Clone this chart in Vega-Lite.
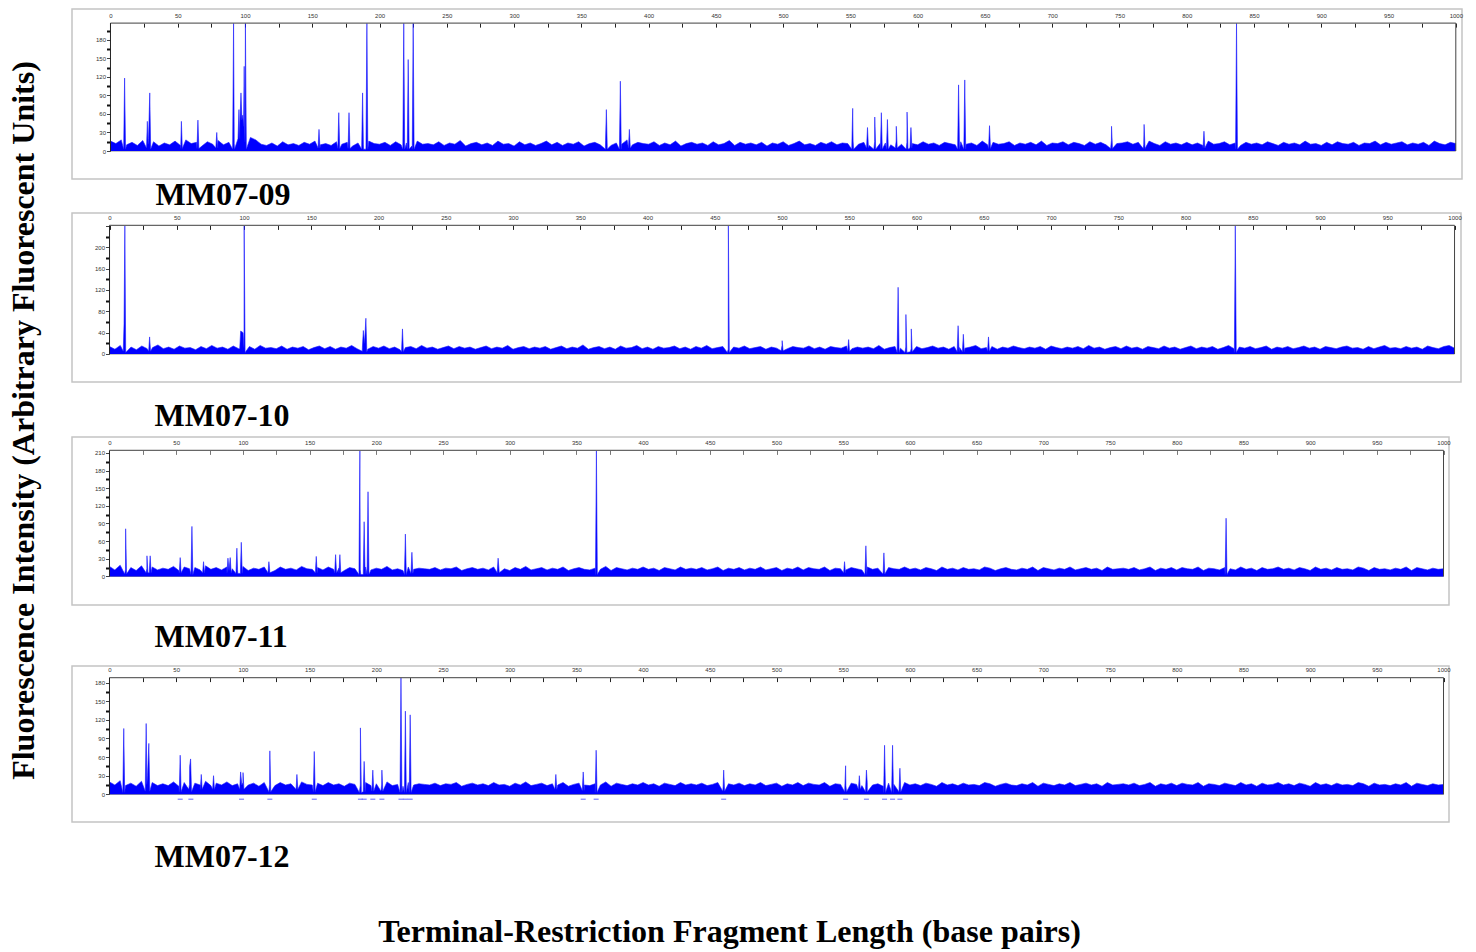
{
"$schema":"https://vega.github.io/schema/vega-lite/v6.json",
"padding":{"left":8,"top":8,"right":0,"bottom":0},
"spacing":0,
"title":{"text":"Fluorescence Intensity (Arbitrary Fluorescent Units)","orient":"left","anchor":"middle","font":"Liberation Serif","fontSize":32,"fontWeight":"bold","color":"#000","offset":30,"dx":58},
"config":{"view":{"stroke":"#c4c4c4","strokeWidth":1.5},"axis":{"grid":false,"labelFont":"Liberation Sans","labelFontSize":6,"labelColor":"#333"}},
"datasets":{
"p1":[{"x":0,"y":16},{"x":4,"y":12},{"x":8,"y":18},{"x":12,"y":10},{"x":16,"y":14},{"x":20,"y":9},{"x":24,"y":17},{"x":28,"y":11},{"x":32,"y":15},{"x":36,"y":8},
{"x":40,"y":13},{"x":44,"y":10},{"x":48,"y":16},{"x":52,"y":9},{"x":56,"y":18},{"x":60,"y":12},{"x":64,"y":14},{"x":68,"y":8},{"x":72,"y":15},{"x":76,"y":11},
{"x":80,"y":17},{"x":84,"y":10},{"x":88,"y":14},{"x":92,"y":12},{"x":96,"y":20},{"x":100,"y":15},{"x":104,"y":22},{"x":108,"y":18},{"x":112,"y":11},{"x":116,"y":9},
{"x":120,"y":13},{"x":124,"y":8},{"x":128,"y":15},{"x":132,"y":10},{"x":136,"y":12},{"x":140,"y":9},{"x":144,"y":14},{"x":148,"y":11},{"x":152,"y":16},{"x":156,"y":10},
{"x":160,"y":12},{"x":164,"y":9},{"x":168,"y":15},{"x":172,"y":11},{"x":176,"y":14},{"x":180,"y":8},{"x":184,"y":13},{"x":188,"y":10},{"x":192,"y":16},{"x":196,"y":12},
{"x":200,"y":11},{"x":204,"y":14},{"x":208,"y":9},{"x":212,"y":15},{"x":216,"y":10},{"x":220,"y":13},{"x":224,"y":8},{"x":228,"y":16},{"x":232,"y":11},{"x":236,"y":12},
{"x":240,"y":10},{"x":244,"y":15},{"x":248,"y":9},{"x":252,"y":13},{"x":256,"y":11},{"x":260,"y":17},{"x":264,"y":8},{"x":268,"y":12},{"x":272,"y":14},{"x":276,"y":10},
{"x":280,"y":13},{"x":284,"y":9},{"x":288,"y":16},{"x":292,"y":11},{"x":296,"y":12},{"x":300,"y":8},{"x":304,"y":15},{"x":308,"y":10},{"x":312,"y":13},{"x":316,"y":9},
{"x":320,"y":12},{"x":324,"y":16},{"x":328,"y":10},{"x":332,"y":14},{"x":336,"y":9},{"x":340,"y":13},{"x":344,"y":11},{"x":348,"y":15},{"x":352,"y":8},{"x":356,"y":12},
{"x":360,"y":14},{"x":364,"y":10},{"x":368,"y":17},{"x":372,"y":9},{"x":376,"y":13},{"x":380,"y":11},{"x":384,"y":18},{"x":388,"y":10},{"x":392,"y":14},{"x":396,"y":12},
{"x":400,"y":11},{"x":404,"y":15},{"x":408,"y":9},{"x":412,"y":13},{"x":416,"y":10},{"x":420,"y":16},{"x":424,"y":8},{"x":428,"y":12},{"x":432,"y":14},{"x":436,"y":11},
{"x":440,"y":13},{"x":444,"y":9},{"x":448,"y":15},{"x":452,"y":10},{"x":456,"y":12},{"x":460,"y":17},{"x":464,"y":9},{"x":468,"y":14},{"x":472,"y":11},{"x":476,"y":13},
{"x":480,"y":10},{"x":484,"y":14},{"x":488,"y":8},{"x":492,"y":13},{"x":496,"y":11},{"x":500,"y":15},{"x":504,"y":9},{"x":508,"y":12},{"x":512,"y":16},{"x":516,"y":10},
{"x":520,"y":12},{"x":524,"y":9},{"x":528,"y":14},{"x":532,"y":11},{"x":536,"y":15},{"x":540,"y":10},{"x":544,"y":13},{"x":548,"y":12},{"x":552,"y":16},{"x":556,"y":11},
{"x":560,"y":14},{"x":564,"y":9},{"x":568,"y":15},{"x":572,"y":12},{"x":576,"y":13},{"x":580,"y":10},{"x":584,"y":16},{"x":588,"y":11},{"x":592,"y":14},{"x":596,"y":12},
{"x":600,"y":10},{"x":604,"y":15},{"x":608,"y":11},{"x":612,"y":13},{"x":616,"y":9},{"x":620,"y":14},{"x":624,"y":12},{"x":628,"y":10},{"x":632,"y":15},{"x":636,"y":11},
{"x":640,"y":13},{"x":644,"y":9},{"x":648,"y":16},{"x":652,"y":10},{"x":656,"y":14},{"x":660,"y":11},{"x":664,"y":12},{"x":668,"y":15},{"x":672,"y":9},{"x":676,"y":13},
{"x":680,"y":11},{"x":684,"y":14},{"x":688,"y":10},{"x":692,"y":16},{"x":696,"y":9},{"x":700,"y":13},{"x":704,"y":12},{"x":708,"y":15},{"x":712,"y":10},{"x":716,"y":14},
{"x":720,"y":12},{"x":724,"y":9},{"x":728,"y":15},{"x":732,"y":11},{"x":736,"y":14},{"x":740,"y":10},{"x":744,"y":17},{"x":748,"y":12},{"x":752,"y":13},{"x":756,"y":15},
{"x":760,"y":11},{"x":764,"y":14},{"x":768,"y":10},{"x":772,"y":16},{"x":776,"y":12},{"x":780,"y":9},{"x":784,"y":15},{"x":788,"y":11},{"x":792,"y":13},{"x":796,"y":10},
{"x":800,"y":14},{"x":804,"y":10},{"x":808,"y":13},{"x":812,"y":9},{"x":816,"y":16},{"x":820,"y":11},{"x":824,"y":12},{"x":828,"y":15},{"x":832,"y":10},{"x":836,"y":13},
{"x":840,"y":9},{"x":844,"y":14},{"x":848,"y":11},{"x":852,"y":13},{"x":856,"y":10},{"x":860,"y":15},{"x":864,"y":12},{"x":868,"y":9},{"x":872,"y":14},{"x":876,"y":11},
{"x":880,"y":13},{"x":884,"y":10},{"x":888,"y":16},{"x":892,"y":11},{"x":896,"y":12},{"x":900,"y":9},{"x":904,"y":14},{"x":908,"y":10},{"x":912,"y":15},{"x":916,"y":12},
{"x":920,"y":11},{"x":924,"y":14},{"x":928,"y":9},{"x":932,"y":13},{"x":936,"y":12},{"x":940,"y":16},{"x":944,"y":10},{"x":948,"y":14},{"x":952,"y":11},{"x":956,"y":13},
{"x":960,"y":15},{"x":964,"y":10},{"x":968,"y":13},{"x":972,"y":11},{"x":976,"y":14},{"x":980,"y":9},{"x":984,"y":16},{"x":988,"y":12},{"x":992,"y":10},{"x":996,"y":14},{"x":1000,"y":12},
{"x":9.8,"y":3},{"x":10.5,"y":118},{"x":11.2,"y":3},
{"x":26.8,"y":5},{"x":27.4,"y":48},{"x":28.3,"y":20},{"x":29.2,"y":94},{"x":29.9,"y":3},
{"x":52.2,"y":4},{"x":52.7,"y":48},{"x":53.4,"y":4},
{"x":64.3,"y":4},{"x":65,"y":50},{"x":65.7,"y":4},
{"x":78.3,"y":5},{"x":79,"y":30},{"x":79.7,"y":5},
{"x":90.8,"y":3},{"x":91.5,"y":207},{"x":92.2,"y":3},
{"x":94.8,"y":20},{"x":95.5,"y":67},{"x":96.2,"y":45},{"x":97,"y":94},{"x":97.7,"y":50},{"x":98.3,"y":58},{"x":98.9,"y":40},{"x":99.4,"y":137},{"x":99.85,"y":30},{"x":100.3,"y":207},{"x":101,"y":3},
{"x":154.3,"y":5},{"x":155,"y":35},{"x":155.7,"y":5},
{"x":169,"y":4},{"x":169.7,"y":62},{"x":170.4,"y":4},
{"x":176.6,"y":4},{"x":177.3,"y":62},{"x":178,"y":4},
{"x":186.7,"y":3},{"x":187.4,"y":94},{"x":188.1,"y":3},{"x":189.9,"y":3},{"x":190.6,"y":207},{"x":191.3,"y":3},
{"x":217.3,"y":3},{"x":218,"y":207},{"x":218.7,"y":3},{"x":220.6,"y":3},{"x":221.3,"y":148},{"x":222,"y":3},{"x":224.3,"y":3},{"x":225,"y":207},{"x":225.7,"y":3},
{"x":367.9,"y":3},{"x":368.6,"y":67},{"x":369.3,"y":3},
{"x":378.3,"y":3},{"x":379,"y":113},{"x":379.7,"y":3},
{"x":385,"y":5},{"x":385.7,"y":35},{"x":386.4,"y":5},
{"x":551,"y":3},{"x":551.7,"y":69},{"x":552.4,"y":3},
{"x":562,"y":5},{"x":562.7,"y":38},{"x":563.4,"y":5},
{"x":567.4,"y":3},{"x":568.1,"y":55},{"x":568.8,"y":3},
{"x":572.3,"y":3},{"x":573,"y":62},{"x":573.7,"y":3},
{"x":576.8,"y":3},{"x":577.5,"y":51},{"x":578.2,"y":3},
{"x":583.4,"y":5},{"x":584.1,"y":40},{"x":584.8,"y":5},
{"x":591.4,"y":3},{"x":592.1,"y":63},{"x":592.8,"y":3},{"x":594.3,"y":5},{"x":595,"y":38},{"x":595.7,"y":5},
{"x":629.7,"y":3},{"x":630.4,"y":107},{"x":631.1,"y":3},{"x":634.3,"y":3},{"x":635,"y":115},{"x":635.7,"y":3},
{"x":652.7,"y":4},{"x":653.4,"y":41},{"x":654.1,"y":4},
{"x":743.4,"y":4},{"x":744.1,"y":40},{"x":744.8,"y":4},
{"x":767.6,"y":4},{"x":768.3,"y":43},{"x":769,"y":4},
{"x":812.1,"y":5},{"x":812.8,"y":32},{"x":813.5,"y":5},
{"x":836.3,"y":3},{"x":837,"y":207},{"x":837.7,"y":3}],
"p2":[{"x":0,"y":14},{"x":4,"y":9},{"x":8,"y":16},{"x":12,"y":11},{"x":16,"y":13},{"x":20,"y":8},{"x":24,"y":15},{"x":28,"y":10},{"x":32,"y":12},{"x":36,"y":17},
{"x":40,"y":10},{"x":44,"y":13},{"x":48,"y":9},{"x":52,"y":15},{"x":56,"y":11},{"x":60,"y":12},{"x":64,"y":8},{"x":68,"y":14},{"x":72,"y":10},{"x":76,"y":16},
{"x":80,"y":11},{"x":84,"y":13},{"x":88,"y":9},{"x":92,"y":15},{"x":96,"y":10},{"x":100,"y":12},{"x":104,"y":14},{"x":108,"y":9},{"x":112,"y":16},{"x":116,"y":11},
{"x":120,"y":12},{"x":124,"y":10},{"x":128,"y":15},{"x":132,"y":9},{"x":136,"y":13},{"x":140,"y":11},{"x":144,"y":14},{"x":148,"y":8},{"x":152,"y":12},{"x":156,"y":15},
{"x":160,"y":10},{"x":164,"y":14},{"x":168,"y":9},{"x":172,"y":13},{"x":176,"y":11},{"x":180,"y":16},{"x":184,"y":10},{"x":188,"y":12},{"x":192,"y":9},{"x":196,"y":14},
{"x":200,"y":11},{"x":204,"y":15},{"x":208,"y":10},{"x":212,"y":13},{"x":216,"y":8},{"x":220,"y":12},{"x":224,"y":14},{"x":228,"y":10},{"x":232,"y":16},{"x":236,"y":11},
{"x":240,"y":13},{"x":244,"y":9},{"x":248,"y":12},{"x":252,"y":15},{"x":256,"y":10},{"x":260,"y":14},{"x":264,"y":11},{"x":268,"y":13},{"x":272,"y":9},{"x":276,"y":12},
{"x":280,"y":15},{"x":284,"y":10},{"x":288,"y":13},{"x":292,"y":11},{"x":296,"y":16},{"x":300,"y":9},{"x":304,"y":12},{"x":308,"y":14},{"x":312,"y":10},{"x":316,"y":13},
{"x":320,"y":11},{"x":324,"y":14},{"x":328,"y":9},{"x":332,"y":12},{"x":336,"y":15},{"x":340,"y":10},{"x":344,"y":13},{"x":348,"y":11},{"x":352,"y":17},{"x":356,"y":9},
{"x":360,"y":12},{"x":364,"y":14},{"x":368,"y":10},{"x":372,"y":13},{"x":376,"y":9},{"x":380,"y":15},{"x":384,"y":11},{"x":388,"y":12},{"x":392,"y":16},{"x":396,"y":10},
{"x":400,"y":13},{"x":404,"y":9},{"x":408,"y":14},{"x":412,"y":11},{"x":416,"y":12},{"x":420,"y":15},{"x":424,"y":10},{"x":428,"y":13},{"x":432,"y":9},{"x":436,"y":14},
{"x":440,"y":11},{"x":444,"y":16},{"x":448,"y":10},{"x":452,"y":12},{"x":456,"y":14},{"x":460,"y":9},{"x":464,"y":13},{"x":468,"y":11},{"x":472,"y":15},{"x":476,"y":10},
{"x":480,"y":12},{"x":484,"y":14},{"x":488,"y":9},{"x":492,"y":13},{"x":496,"y":11},{"x":500,"y":16},{"x":504,"y":10},{"x":508,"y":14},{"x":512,"y":12},{"x":516,"y":11},
{"x":520,"y":15},{"x":524,"y":10},{"x":528,"y":13},{"x":532,"y":9},{"x":536,"y":14},{"x":540,"y":12},{"x":544,"y":11},{"x":548,"y":15},{"x":552,"y":10},{"x":556,"y":13},
{"x":560,"y":11},{"x":564,"y":13},{"x":568,"y":10},{"x":572,"y":16},{"x":576,"y":9},{"x":580,"y":12},{"x":584,"y":14},{"x":588,"y":11},{"x":592,"y":13},{"x":596,"y":10},
{"x":600,"y":14},{"x":604,"y":10},{"x":608,"y":12},{"x":612,"y":15},{"x":616,"y":11},{"x":620,"y":13},{"x":624,"y":9},{"x":628,"y":14},{"x":632,"y":12},{"x":636,"y":11},
{"x":640,"y":13},{"x":644,"y":16},{"x":648,"y":10},{"x":652,"y":12},{"x":656,"y":14},{"x":660,"y":9},{"x":664,"y":13},{"x":668,"y":11},{"x":672,"y":15},{"x":676,"y":12},
{"x":680,"y":10},{"x":684,"y":13},{"x":688,"y":11},{"x":692,"y":14},{"x":696,"y":9},{"x":700,"y":15},{"x":704,"y":12},{"x":708,"y":10},{"x":712,"y":13},{"x":716,"y":11},
{"x":720,"y":14},{"x":724,"y":10},{"x":728,"y":16},{"x":732,"y":11},{"x":736,"y":13},{"x":740,"y":9},{"x":744,"y":12},{"x":748,"y":14},{"x":752,"y":10},{"x":756,"y":15},
{"x":760,"y":11},{"x":764,"y":13},{"x":768,"y":9},{"x":772,"y":14},{"x":776,"y":12},{"x":780,"y":10},{"x":784,"y":15},{"x":788,"y":11},{"x":792,"y":13},{"x":796,"y":9},
{"x":800,"y":12},{"x":804,"y":15},{"x":808,"y":10},{"x":812,"y":13},{"x":816,"y":11},{"x":820,"y":14},{"x":824,"y":9},{"x":828,"y":12},{"x":832,"y":16},{"x":836,"y":10},
{"x":840,"y":13},{"x":844,"y":11},{"x":848,"y":14},{"x":852,"y":10},{"x":856,"y":12},{"x":860,"y":15},{"x":864,"y":9},{"x":868,"y":13},{"x":872,"y":11},{"x":876,"y":14},
{"x":880,"y":10},{"x":884,"y":12},{"x":888,"y":15},{"x":892,"y":11},{"x":896,"y":13},{"x":900,"y":9},{"x":904,"y":14},{"x":908,"y":12},{"x":912,"y":10},{"x":916,"y":13},
{"x":920,"y":15},{"x":924,"y":11},{"x":928,"y":12},{"x":932,"y":9},{"x":936,"y":14},{"x":940,"y":10},{"x":944,"y":13},{"x":948,"y":16},{"x":952,"y":11},{"x":956,"y":12},
{"x":960,"y":10},{"x":964,"y":14},{"x":968,"y":11},{"x":972,"y":13},{"x":976,"y":9},{"x":980,"y":15},{"x":984,"y":12},{"x":988,"y":10},{"x":992,"y":14},{"x":996,"y":16},{"x":1000,"y":11},
{"x":10.2,"y":5},{"x":10.8,"y":57},{"x":11.4,"y":241},{"x":12.1,"y":3},
{"x":29.1,"y":5},{"x":29.8,"y":32},{"x":30.5,"y":5},
{"x":96.8,"y":10},{"x":97.5,"y":43},{"x":99.3,"y":40},{"x":100.1,"y":241},{"x":100.8,"y":3},
{"x":187.9,"y":5},{"x":188.7,"y":44},{"x":189.6,"y":20},{"x":190.6,"y":67},{"x":191.3,"y":4},
{"x":217.1,"y":4},{"x":217.8,"y":47},{"x":218.5,"y":4},
{"x":459.3,"y":3},{"x":460.1,"y":241},{"x":460.8,"y":3},
{"x":499.3,"y":6},{"x":500.1,"y":25},{"x":500.8,"y":6},
{"x":548.8,"y":5},{"x":549.5,"y":27},{"x":550.2,"y":5},
{"x":585.6,"y":3},{"x":586.3,"y":125},{"x":587,"y":3},
{"x":591.4,"y":3},{"x":592.1,"y":74},{"x":592.8,"y":3},
{"x":595.4,"y":4},{"x":596.1,"y":47},{"x":596.8,"y":4},
{"x":630.2,"y":4},{"x":630.9,"y":53},{"x":631.6,"y":4},{"x":634.1,"y":4},{"x":634.8,"y":37},{"x":635.5,"y":4},
{"x":652.8,"y":5},{"x":653.5,"y":32},{"x":654.2,"y":5},
{"x":836.3,"y":3},{"x":837,"y":241},{"x":837.7,"y":3}],
"p3":[{"x":0,"y":17},{"x":4,"y":11},{"x":8,"y":19},{"x":12,"y":12},{"x":16,"y":15},{"x":20,"y":10},{"x":24,"y":18},{"x":28,"y":13},{"x":32,"y":16},{"x":36,"y":11},
{"x":40,"y":14},{"x":44,"y":12},{"x":48,"y":17},{"x":52,"y":10},{"x":56,"y":16},{"x":60,"y":13},{"x":64,"y":15},{"x":68,"y":11},{"x":72,"y":18},{"x":76,"y":12},
{"x":80,"y":15},{"x":84,"y":11},{"x":88,"y":16},{"x":92,"y":13},{"x":96,"y":12},{"x":100,"y":17},{"x":104,"y":10},{"x":108,"y":14},{"x":112,"y":12},{"x":116,"y":16},
{"x":120,"y":13},{"x":124,"y":10},{"x":128,"y":16},{"x":132,"y":12},{"x":136,"y":14},{"x":140,"y":11},{"x":144,"y":17},{"x":148,"y":13},{"x":152,"y":12},{"x":156,"y":15},
{"x":160,"y":11},{"x":164,"y":16},{"x":168,"y":12},{"x":172,"y":14},{"x":176,"y":10},{"x":180,"y":15},{"x":184,"y":13},{"x":188,"y":12},{"x":192,"y":16},{"x":196,"y":11},
{"x":200,"y":14},{"x":204,"y":12},{"x":208,"y":17},{"x":212,"y":11},{"x":216,"y":13},{"x":220,"y":10},{"x":224,"y":16},{"x":228,"y":12},{"x":232,"y":14},{"x":236,"y":13},
{"x":240,"y":12},{"x":244,"y":15},{"x":248,"y":11},{"x":252,"y":14},{"x":256,"y":13},{"x":260,"y":16},{"x":264,"y":10},{"x":268,"y":13},{"x":272,"y":15},{"x":276,"y":12},
{"x":280,"y":14},{"x":284,"y":11},{"x":288,"y":16},{"x":292,"y":12},{"x":296,"y":13},{"x":300,"y":10},{"x":304,"y":15},{"x":308,"y":12},{"x":312,"y":17},{"x":316,"y":11},
{"x":320,"y":13},{"x":324,"y":15},{"x":328,"y":11},{"x":332,"y":14},{"x":336,"y":12},{"x":340,"y":16},{"x":344,"y":10},{"x":348,"y":13},{"x":352,"y":15},{"x":356,"y":12},
{"x":360,"y":11},{"x":364,"y":14},{"x":368,"y":12},{"x":372,"y":17},{"x":376,"y":10},{"x":380,"y":15},{"x":384,"y":13},{"x":388,"y":11},{"x":392,"y":14},{"x":396,"y":12},
{"x":400,"y":16},{"x":404,"y":12},{"x":408,"y":14},{"x":412,"y":10},{"x":416,"y":15},{"x":420,"y":13},{"x":424,"y":11},{"x":428,"y":16},{"x":432,"y":12},{"x":436,"y":14},
{"x":440,"y":12},{"x":444,"y":15},{"x":448,"y":11},{"x":452,"y":13},{"x":456,"y":16},{"x":460,"y":10},{"x":464,"y":14},{"x":468,"y":12},{"x":472,"y":15},{"x":476,"y":11},
{"x":480,"y":14},{"x":484,"y":12},{"x":488,"y":16},{"x":492,"y":11},{"x":496,"y":13},{"x":500,"y":15},{"x":504,"y":10},{"x":508,"y":14},{"x":512,"y":12},{"x":516,"y":16},
{"x":520,"y":11},{"x":524,"y":15},{"x":528,"y":13},{"x":532,"y":12},{"x":536,"y":16},{"x":540,"y":10},{"x":544,"y":14},{"x":548,"y":13},{"x":552,"y":11},{"x":556,"y":15},
{"x":560,"y":13},{"x":564,"y":11},{"x":568,"y":16},{"x":572,"y":12},{"x":576,"y":14},{"x":580,"y":10},{"x":584,"y":15},{"x":588,"y":13},{"x":592,"y":12},{"x":596,"y":16},
{"x":600,"y":12},{"x":604,"y":14},{"x":608,"y":11},{"x":612,"y":15},{"x":616,"y":13},{"x":620,"y":10},{"x":624,"y":16},{"x":628,"y":12},{"x":632,"y":14},{"x":636,"y":11},
{"x":640,"y":15},{"x":644,"y":12},{"x":648,"y":13},{"x":652,"y":11},{"x":656,"y":16},{"x":660,"y":14},{"x":664,"y":10},{"x":668,"y":13},{"x":672,"y":15},{"x":676,"y":12},
{"x":680,"y":11},{"x":684,"y":14},{"x":688,"y":12},{"x":692,"y":16},{"x":696,"y":10},{"x":700,"y":15},{"x":704,"y":13},{"x":708,"y":11},{"x":712,"y":14},{"x":716,"y":12},
{"x":720,"y":16},{"x":724,"y":11},{"x":728,"y":13},{"x":732,"y":15},{"x":736,"y":12},{"x":740,"y":14},{"x":744,"y":10},{"x":748,"y":16},{"x":752,"y":12},{"x":756,"y":13},
{"x":760,"y":14},{"x":764,"y":12},{"x":768,"y":15},{"x":772,"y":11},{"x":776,"y":13},{"x":780,"y":16},{"x":784,"y":10},{"x":788,"y":14},{"x":792,"y":12},{"x":796,"y":15},
{"x":800,"y":11},{"x":804,"y":15},{"x":808,"y":13},{"x":812,"y":12},{"x":816,"y":16},{"x":820,"y":10},{"x":824,"y":14},{"x":828,"y":13},{"x":832,"y":11},{"x":836,"y":15},
{"x":840,"y":13},{"x":844,"y":11},{"x":848,"y":16},{"x":852,"y":12},{"x":856,"y":14},{"x":860,"y":10},{"x":864,"y":15},{"x":868,"y":12},{"x":872,"y":13},{"x":876,"y":16},
{"x":880,"y":12},{"x":884,"y":14},{"x":888,"y":11},{"x":892,"y":15},{"x":896,"y":13},{"x":900,"y":10},{"x":904,"y":16},{"x":908,"y":12},{"x":912,"y":14},{"x":916,"y":11},
{"x":920,"y":15},{"x":924,"y":12},{"x":928,"y":13},{"x":932,"y":11},{"x":936,"y":16},{"x":940,"y":14},{"x":944,"y":10},{"x":948,"y":15},{"x":952,"y":12},{"x":956,"y":13},
{"x":960,"y":11},{"x":964,"y":14},{"x":968,"y":12},{"x":972,"y":16},{"x":976,"y":10},{"x":980,"y":15},{"x":984,"y":13},{"x":988,"y":11},{"x":992,"y":14},{"x":996,"y":12},{"x":1000,"y":13},
{"x":11.4,"y":4},{"x":12.1,"y":81},{"x":12.8,"y":4},
{"x":27.4,"y":6},{"x":28.1,"y":35},{"x":28.8,"y":6},{"x":29.8,"y":6},{"x":30.5,"y":35},{"x":31.2,"y":6},
{"x":52.3,"y":6},{"x":53,"y":32},{"x":53.7,"y":6},
{"x":61.1,"y":3},{"x":61.8,"y":85},{"x":62.5,"y":3},
{"x":69.8,"y":6},{"x":70.5,"y":25},{"x":71.2,"y":6},
{"x":88.1,"y":6},{"x":88.8,"y":31},{"x":89.6,"y":10},{"x":90.5,"y":32},{"x":91.2,"y":6},
{"x":94.8,"y":5},{"x":95.5,"y":48},{"x":96.2,"y":5},{"x":98.1,"y":5},{"x":98.8,"y":58},{"x":99.5,"y":5},
{"x":118.8,"y":6},{"x":119.5,"y":25},{"x":120.2,"y":6},
{"x":154.3,"y":6},{"x":155,"y":34},{"x":155.7,"y":6},
{"x":168.8,"y":6},{"x":169.5,"y":37},{"x":170.2,"y":6},{"x":172,"y":6},{"x":172.7,"y":37},{"x":173.4,"y":6},
{"x":187,"y":3},{"x":187.7,"y":214},{"x":188.4,"y":3},{"x":190.2,"y":3},{"x":190.9,"y":93},{"x":191.6,"y":3},{"x":193.1,"y":3},{"x":193.8,"y":144},{"x":194.5,"y":3},
{"x":221.1,"y":3},{"x":221.8,"y":72},{"x":222.5,"y":3},
{"x":226,"y":5},{"x":226.7,"y":41},{"x":227.4,"y":5},
{"x":290.6,"y":6},{"x":291.3,"y":31},{"x":292.2,"y":6},
{"x":364.3,"y":3},{"x":365,"y":214},{"x":365.7,"y":3},
{"x":550.3,"y":6},{"x":551,"y":25},{"x":551.7,"y":6},
{"x":566.3,"y":3},{"x":567,"y":52},{"x":567.7,"y":3},
{"x":579.8,"y":4},{"x":580.5,"y":40},{"x":581.2,"y":4},
{"x":836.3,"y":3},{"x":837,"y":99},{"x":837.7,"y":3}],
"p4":[{"x":0,"y":20},{"x":4,"y":15},{"x":8,"y":22},{"x":12,"y":14},{"x":16,"y":18},{"x":20,"y":13},{"x":24,"y":21},{"x":28,"y":16},{"x":32,"y":19},{"x":36,"y":14},
{"x":40,"y":17},{"x":44,"y":14},{"x":48,"y":20},{"x":52,"y":13},{"x":56,"y":19},{"x":60,"y":16},{"x":64,"y":18},{"x":68,"y":15},{"x":72,"y":21},{"x":76,"y":14},
{"x":80,"y":18},{"x":84,"y":15},{"x":88,"y":20},{"x":92,"y":14},{"x":96,"y":17},{"x":100,"y":19},{"x":104,"y":15},{"x":108,"y":18},{"x":112,"y":13},{"x":116,"y":19},
{"x":120,"y":16},{"x":124,"y":14},{"x":128,"y":19},{"x":132,"y":15},{"x":136,"y":17},{"x":140,"y":13},{"x":144,"y":20},{"x":148,"y":16},{"x":152,"y":15},{"x":156,"y":18},
{"x":160,"y":14},{"x":164,"y":19},{"x":168,"y":15},{"x":172,"y":17},{"x":176,"y":13},{"x":180,"y":18},{"x":184,"y":16},{"x":188,"y":15},{"x":192,"y":19},{"x":196,"y":14},
{"x":200,"y":17},{"x":204,"y":15},{"x":208,"y":20},{"x":212,"y":14},{"x":216,"y":16},{"x":220,"y":13},{"x":224,"y":19},{"x":228,"y":15},{"x":232,"y":17},{"x":236,"y":16},
{"x":240,"y":15},{"x":244,"y":18},{"x":248,"y":14},{"x":252,"y":17},{"x":256,"y":16},{"x":260,"y":19},{"x":264,"y":13},{"x":268,"y":16},{"x":272,"y":18},{"x":276,"y":15},
{"x":280,"y":17},{"x":284,"y":14},{"x":288,"y":19},{"x":292,"y":15},{"x":296,"y":16},{"x":300,"y":13},{"x":304,"y":18},{"x":308,"y":15},{"x":312,"y":20},{"x":316,"y":14},
{"x":320,"y":16},{"x":324,"y":18},{"x":328,"y":14},{"x":332,"y":17},{"x":336,"y":15},{"x":340,"y":19},{"x":344,"y":13},{"x":348,"y":16},{"x":352,"y":18},{"x":356,"y":15},
{"x":360,"y":14},{"x":364,"y":17},{"x":368,"y":15},{"x":372,"y":20},{"x":376,"y":13},{"x":380,"y":18},{"x":384,"y":16},{"x":388,"y":14},{"x":392,"y":17},{"x":396,"y":15},
{"x":400,"y":19},{"x":404,"y":15},{"x":408,"y":17},{"x":412,"y":13},{"x":416,"y":18},{"x":420,"y":16},{"x":424,"y":14},{"x":428,"y":19},{"x":432,"y":15},{"x":436,"y":17},
{"x":440,"y":15},{"x":444,"y":18},{"x":448,"y":14},{"x":452,"y":16},{"x":456,"y":19},{"x":460,"y":13},{"x":464,"y":17},{"x":468,"y":15},{"x":472,"y":18},{"x":476,"y":14},
{"x":480,"y":17},{"x":484,"y":15},{"x":488,"y":19},{"x":492,"y":14},{"x":496,"y":16},{"x":500,"y":18},{"x":504,"y":13},{"x":508,"y":17},{"x":512,"y":15},{"x":516,"y":19},
{"x":520,"y":14},{"x":524,"y":18},{"x":528,"y":16},{"x":532,"y":15},{"x":536,"y":19},{"x":540,"y":13},{"x":544,"y":17},{"x":548,"y":16},{"x":552,"y":14},{"x":556,"y":18},
{"x":560,"y":16},{"x":564,"y":14},{"x":568,"y":19},{"x":572,"y":15},{"x":576,"y":17},{"x":580,"y":13},{"x":584,"y":18},{"x":588,"y":16},{"x":592,"y":15},{"x":596,"y":19},
{"x":600,"y":15},{"x":604,"y":17},{"x":608,"y":14},{"x":612,"y":18},{"x":616,"y":16},{"x":620,"y":13},{"x":624,"y":19},{"x":628,"y":15},{"x":632,"y":17},{"x":636,"y":14},
{"x":640,"y":18},{"x":644,"y":15},{"x":648,"y":16},{"x":652,"y":14},{"x":656,"y":19},{"x":660,"y":17},{"x":664,"y":13},{"x":668,"y":16},{"x":672,"y":18},{"x":676,"y":15},
{"x":680,"y":14},{"x":684,"y":17},{"x":688,"y":15},{"x":692,"y":19},{"x":696,"y":13},{"x":700,"y":18},{"x":704,"y":16},{"x":708,"y":14},{"x":712,"y":17},{"x":716,"y":15},
{"x":720,"y":19},{"x":724,"y":14},{"x":728,"y":16},{"x":732,"y":18},{"x":736,"y":15},{"x":740,"y":17},{"x":744,"y":13},{"x":748,"y":19},{"x":752,"y":15},{"x":756,"y":16},
{"x":760,"y":17},{"x":764,"y":15},{"x":768,"y":18},{"x":772,"y":14},{"x":776,"y":16},{"x":780,"y":19},{"x":784,"y":13},{"x":788,"y":17},{"x":792,"y":15},{"x":796,"y":18},
{"x":800,"y":14},{"x":804,"y":18},{"x":808,"y":16},{"x":812,"y":15},{"x":816,"y":19},{"x":820,"y":13},{"x":824,"y":17},{"x":828,"y":16},{"x":832,"y":14},{"x":836,"y":18},
{"x":840,"y":16},{"x":844,"y":14},{"x":848,"y":19},{"x":852,"y":15},{"x":856,"y":17},{"x":860,"y":13},{"x":864,"y":18},{"x":868,"y":15},{"x":872,"y":16},{"x":876,"y":19},
{"x":880,"y":15},{"x":884,"y":17},{"x":888,"y":14},{"x":892,"y":18},{"x":896,"y":16},{"x":900,"y":13},{"x":904,"y":19},{"x":908,"y":15},{"x":912,"y":17},{"x":916,"y":14},
{"x":920,"y":18},{"x":924,"y":15},{"x":928,"y":16},{"x":932,"y":14},{"x":936,"y":19},{"x":940,"y":17},{"x":944,"y":13},{"x":948,"y":18},{"x":952,"y":15},{"x":956,"y":16},
{"x":960,"y":14},{"x":964,"y":17},{"x":968,"y":15},{"x":972,"y":19},{"x":976,"y":13},{"x":980,"y":18},{"x":984,"y":16},{"x":988,"y":14},{"x":992,"y":17},{"x":996,"y":15},{"x":1000,"y":16},
{"x":10,"y":3},{"x":10.7,"y":106},{"x":11.4,"y":3},
{"x":26.8,"y":5},{"x":27.5,"y":114},{"x":28.5,"y":30},{"x":29.5,"y":82},{"x":30.2,"y":5},
{"x":52.3,"y":4},{"x":53,"y":63},{"x":53.7,"y":4},
{"x":59.4,"y":8},{"x":60.1,"y":45},{"x":60.8,"y":57},{"x":61.5,"y":4},
{"x":68.1,"y":8},{"x":68.8,"y":32},{"x":69.5,"y":8},
{"x":77.3,"y":8},{"x":78,"y":30},{"x":78.7,"y":8},
{"x":97.6,"y":8},{"x":98.3,"y":36},{"x":99.2,"y":15},{"x":100.1,"y":35},{"x":100.8,"y":8},
{"x":119.5,"y":4},{"x":120.2,"y":70},{"x":120.9,"y":4},
{"x":139.8,"y":8},{"x":140.5,"y":32},{"x":141.2,"y":8},
{"x":152.8,"y":4},{"x":153.5,"y":69},{"x":154.2,"y":4},
{"x":187.3,"y":3},{"x":188.1,"y":107},{"x":188.8,"y":3},{"x":190.2,"y":4},{"x":190.9,"y":53},{"x":191.6,"y":4},
{"x":196.7,"y":5},{"x":197.4,"y":39},{"x":198.1,"y":5},
{"x":203.5,"y":5},{"x":204.2,"y":39},{"x":204.9,"y":5},
{"x":217.8,"y":3},{"x":218.5,"y":188},{"x":219.2,"y":3},{"x":221.1,"y":3},{"x":221.8,"y":134},{"x":222.5,"y":3},{"x":224.7,"y":3},{"x":225.4,"y":128},{"x":226.1,"y":3},
{"x":333.9,"y":8},{"x":334.6,"y":32},{"x":335.3,"y":8},
{"x":354.4,"y":6},{"x":355.1,"y":36},{"x":355.8,"y":6},
{"x":364.1,"y":3},{"x":364.8,"y":71},{"x":365.5,"y":3},
{"x":459.7,"y":5},{"x":460.4,"y":39},{"x":461.1,"y":5},
{"x":551.1,"y":4},{"x":551.8,"y":46},{"x":552.5,"y":4},
{"x":561.4,"y":8},{"x":562.1,"y":30},{"x":562.8,"y":8},
{"x":566.7,"y":4},{"x":567.4,"y":39},{"x":568.1,"y":4},
{"x":580.3,"y":3},{"x":581,"y":79},{"x":581.7,"y":3},
{"x":586.3,"y":3},{"x":587,"y":79},{"x":587.7,"y":3},
{"x":591.8,"y":4},{"x":592.5,"y":42},{"x":593.2,"y":4}],
"m4":[{"x":53},{"x":61},{"x":99},{"x":120.2},{"x":153.5},{"x":188.1},{"x":190.9},{"x":197.4},{"x":204.2},{"x":218.5},{"x":221.8},{"x":225.4},{"x":355.1},{"x":364.8},{"x":460.4},{"x":551.8},{"x":567.4},{"x":581},{"x":587},{"x":592.5}]
},
"vconcat":[
{"width":1390,"height":170,"resolve":{"axis":{"x":"independent","y":"independent"}},
"layer":[
{"data":{"values":[{}]},"mark":{"type":"rule","color":"#888","strokeWidth":1},
"encoding":{"x":{"datum":0,"type":"quantitative","axis":{"orient":"bottom","title":"MM07-09","labels":false,"ticks":false,"domain":false,"titleFont":"Liberation Serif","titleFontSize":32,"titleFontWeight":"bold","titleColor":"#000","titleAlign":"left","titleBaseline":"top","titleX":83,"titleY":0.7}},"x2":{"datum":1000},"y":{"datum":0,"type":"quantitative","axis":null}}},
{"data":{"name":"p1"},"mark":{"type":"area","color":"#0000ff","opacity":1},
"encoding":{"x":{"field":"x","type":"quantitative","scale":{"domain":[-28.6,1004.6],"nice":false,"zero":false},
"axis":{"orient":"bottom","offset":-155.9,"values":[0,25,50,75,100,125,150,175,200,225,250,275,300,325,350,375,400,425,450,475,500,525,550,575,600,625,650,675,700,725,750,775,800,825,850,875,900,925,950,975,1000],"format":"d","labelExpr":"datum.value % 50 === 0 ? datum.label : ''","tickSize":4,"tickColor":"#222","tickWidth":1,"labelPadding":-15,"domain":false,"title":null,"labelFlush":false,"labelOverlap":false,"labelBound":false}},
"y":{"field":"y","type":"quantitative","scale":{"domain":[-45.3,229.8],"nice":false,"zero":false},
"axis":{"orient":"left","offset":-38.5,"values":[0,15,30,45,60,75,90,105,120,135,150,165,180,195],"format":"d","labelExpr":"datum.value % 30 === 0 ? datum.label : ''","tickSize":4,"tickColor":"#111","tickWidth":{"condition":{"test":"datum.value % 30 !== 0","value":2},"value":0.8},"labelPadding":1,"domain":false,"title":null,"labelOverlap":false,"labelBound":false}},
"y2":{"datum":0}}},
{"data":{"name":"p1"},"mark":{"type":"line","color":"#1a1aff","strokeWidth":0.6},"encoding":{"x":{"field":"x","type":"quantitative","axis":null},"y":{"field":"y","type":"quantitative","axis":null}}},
{"data":{"values":[{}]},"mark":{"type":"rule","color":"#666","strokeWidth":1.3},"encoding":{"x":{"datum":0,"axis":null},"x2":{"datum":1000},"y":{"datum":207,"axis":null}}},
{"data":{"values":[{}]},"mark":{"type":"rule","color":"#222","strokeWidth":1},"encoding":{"x":{"datum":0,"axis":null},"y":{"datum":0,"axis":null},"y2":{"datum":207}}},
{"data":{"values":[{}]},"mark":{"type":"rule","color":"#444","strokeWidth":1},"encoding":{"x":{"datum":1000,"axis":null},"y":{"datum":0,"axis":null},"y2":{"datum":207}}}
]},
{"width":1389,"height":169,"resolve":{"axis":{"x":"independent","y":"independent"}},
"layer":[
{"data":{"values":[{}]},"mark":{"type":"rule","color":"#888","strokeWidth":1},
"encoding":{"x":{"datum":0,"type":"quantitative","axis":{"orient":"bottom","title":["MM07-10",""],"titleLineHeight":4,"labels":false,"ticks":false,"domain":false,"titleFont":"Liberation Serif","titleFontSize":32,"titleFontWeight":"bold","titleColor":"#000","titleAlign":"left","titleBaseline":"top","titleX":82,"titleY":18.2}},"x2":{"datum":1000},"y":{"datum":0,"type":"quantitative","axis":null}}},
{"data":{"name":"p2"},"mark":{"type":"area","color":"#0000ff","opacity":1},
"encoding":{"x":{"field":"x","type":"quantitative","scale":{"domain":[-27.9,1004.8],"nice":false,"zero":false},
"axis":{"orient":"bottom","offset":-156.6,"values":[0,25,50,75,100,125,150,175,200,225,250,275,300,325,350,375,400,425,450,475,500,525,550,575,600,625,650,675,700,725,750,775,800,825,850,875,900,925,950,975,1000],"format":"d","labelExpr":"datum.value % 50 === 0 ? datum.label : ''","tickSize":4,"tickColor":"#222","tickWidth":1,"labelPadding":-15,"domain":false,"title":null,"labelFlush":false,"labelOverlap":false,"labelBound":false}},
"y":{"field":"y","type":"quantitative","scale":{"domain":[-52.5,264.3],"nice":false,"zero":false},
"axis":{"orient":"left","offset":-37.5,"values":[0,20,40,60,80,100,120,140,160,180,200,220,240],"format":"d","labelExpr":"datum.value % 40 === 0 && datum.value < 240 ? datum.label : ''","tickSize":4,"tickColor":"#111","tickWidth":{"condition":{"test":"datum.value % 40 !== 0","value":2},"value":0.8},"labelPadding":1,"domain":false,"title":null,"labelOverlap":false,"labelBound":false}},
"y2":{"datum":0}}},
{"data":{"name":"p2"},"mark":{"type":"line","color":"#1a1aff","strokeWidth":0.6},"encoding":{"x":{"field":"x","type":"quantitative","axis":null},"y":{"field":"y","type":"quantitative","axis":null}}},
{"data":{"values":[{}]},"mark":{"type":"rule","color":"#666","strokeWidth":1.3},"encoding":{"x":{"datum":0,"axis":null},"x2":{"datum":1000},"y":{"datum":241,"axis":null}}},
{"data":{"values":[{}]},"mark":{"type":"rule","color":"#222","strokeWidth":1},"encoding":{"x":{"datum":0,"axis":null},"y":{"datum":0,"axis":null},"y2":{"datum":241}}},
{"data":{"values":[{}]},"mark":{"type":"rule","color":"#444","strokeWidth":1},"encoding":{"x":{"datum":1000,"axis":null},"y":{"datum":0,"axis":null},"y2":{"datum":241}}}
]},
{"width":1377,"height":168,"resolve":{"axis":{"x":"independent","y":"independent"}},
"layer":[
{"data":{"values":[{}]},"mark":{"type":"rule","color":"#888","strokeWidth":1},
"encoding":{"x":{"datum":0,"type":"quantitative","axis":{"orient":"bottom","title":["MM07-11",""],"titleLineHeight":11,"labels":false,"ticks":false,"domain":false,"titleFont":"Liberation Serif","titleFontSize":32,"titleFontWeight":"bold","titleColor":"#000","titleAlign":"left","titleBaseline":"top","titleX":82,"titleY":16.7}},"x2":{"datum":1000},"y":{"datum":0,"type":"quantitative","axis":null}}},
{"data":{"name":"p3"},"mark":{"type":"area","color":"#0000ff","opacity":1},
"encoding":{"x":{"field":"x","type":"quantitative","scale":{"domain":[-28.1,1004.1],"nice":false,"zero":false},
"axis":{"orient":"bottom","offset":-154.6,"values":[0,25,50,75,100,125,150,175,200,225,250,275,300,325,350,375,400,425,450,475,500,525,550,575,600,625,650,675,700,725,750,775,800,825,850,875,900,925,950,975,1000],"format":"d","labelExpr":"datum.value % 50 === 0 ? datum.label : ''","tickSize":4,"tickColor":"#555","tickWidth":0.8,"labelPadding":-15,"domain":false,"title":null,"labelFlush":false,"labelOverlap":false,"labelBound":false}},
"y":{"field":"y","type":"quantitative","scale":{"domain":[-48.7,237.2],"nice":false,"zero":false},
"axis":{"orient":"left","offset":-37.5,"values":[0,15,30,45,60,75,90,105,120,135,150,165,180,195,210],"format":"d","labelExpr":"datum.value % 30 === 0 ? datum.label : ''","tickSize":4,"tickColor":"#111","tickWidth":{"condition":{"test":"datum.value % 30 !== 0","value":2},"value":0.8},"labelPadding":1,"domain":false,"title":null,"labelOverlap":false,"labelBound":false}},
"y2":{"datum":0}}},
{"data":{"name":"p3"},"mark":{"type":"line","color":"#1a1aff","strokeWidth":0.6},"encoding":{"x":{"field":"x","type":"quantitative","axis":null},"y":{"field":"y","type":"quantitative","axis":null}}},
{"data":{"values":[{}]},"mark":{"type":"rule","color":"#666","strokeWidth":1.3},"encoding":{"x":{"datum":0,"axis":null},"x2":{"datum":1000},"y":{"datum":214.4,"axis":null}}},
{"data":{"values":[{}]},"mark":{"type":"rule","color":"#222","strokeWidth":1},"encoding":{"x":{"datum":0,"axis":null},"y":{"datum":0,"axis":null},"y2":{"datum":214.4}}},
{"data":{"values":[{}]},"mark":{"type":"rule","color":"#444","strokeWidth":1},"encoding":{"x":{"datum":1000,"axis":null},"y":{"datum":0,"axis":null},"y2":{"datum":214.4}}}
]},
{"width":1377,"height":156,"resolve":{"axis":{"x":"independent","y":"independent"}},
"title":{"text":"Terminal-Restriction Fragment Length (base pairs)","orient":"bottom","anchor":"middle","font":"Liberation Serif","fontSize":32,"fontWeight":"bold","color":"#000","offset":45,"dx":-31},
"layer":[
{"data":{"values":[{}]},"mark":{"type":"rule","color":"#888","strokeWidth":1},
"encoding":{"x":{"datum":0,"type":"quantitative","axis":{"orient":"bottom","title":"MM07-12","labels":false,"ticks":false,"domain":false,"titleFont":"Liberation Serif","titleFontSize":32,"titleFontWeight":"bold","titleColor":"#000","titleAlign":"left","titleBaseline":"top","titleX":82,"titleY":19}},"x2":{"datum":1000},"y":{"datum":0,"type":"quantitative","axis":null}}},
{"data":{"name":"p4"},"mark":{"type":"area","color":"#0000ff","opacity":1},
"encoding":{"x":{"field":"x","type":"quantitative","scale":{"domain":[-28.1,1004.1],"nice":false,"zero":false},
"axis":{"orient":"bottom","offset":-144.4,"values":[0,25,50,75,100,125,150,175,200,225,250,275,300,325,350,375,400,425,450,475,500,525,550,575,600,625,650,675,700,725,750,775,800,825,850,875,900,925,950,975,1000],"format":"d","labelExpr":"datum.value % 50 === 0 ? datum.label : ''","tickSize":4,"tickColor":"#222","tickWidth":1,"labelPadding":-15,"domain":false,"title":null,"labelFlush":false,"labelOverlap":false,"labelBound":false}},
"y":{"field":"y","type":"quantitative","scale":{"domain":[-44.6,206.7],"nice":false,"zero":false},
"axis":{"orient":"left","offset":-37.5,"values":[0,15,30,45,60,75,90,105,120,135,150,165,180],"format":"d","labelExpr":"datum.value % 30 === 0 ? datum.label : ''","tickSize":4,"tickColor":"#111","tickWidth":{"condition":{"test":"datum.value % 30 !== 0","value":2},"value":0.8},"labelPadding":1,"domain":false,"title":null,"labelOverlap":false,"labelBound":false}},
"y2":{"datum":0}}},
{"data":{"name":"p4"},"mark":{"type":"line","color":"#1a1aff","strokeWidth":0.6},"encoding":{"x":{"field":"x","type":"quantitative","axis":null},"y":{"field":"y","type":"quantitative","axis":null}}},
{"data":{"name":"m4"},"mark":{"type":"tick","orient":"horizontal","color":"#6666ff","size":5,"thickness":1.5},"encoding":{"x":{"field":"x","type":"quantitative","axis":null},"y":{"datum":-8,"axis":null}}},
{"data":{"values":[{}]},"mark":{"type":"rule","color":"#666","strokeWidth":1.3},"encoding":{"x":{"datum":0,"axis":null},"x2":{"datum":1000},"y":{"datum":188,"axis":null}}},
{"data":{"values":[{}]},"mark":{"type":"rule","color":"#222","strokeWidth":1},"encoding":{"x":{"datum":0,"axis":null},"y":{"datum":0,"axis":null},"y2":{"datum":188}}},
{"data":{"values":[{}]},"mark":{"type":"rule","color":"#444","strokeWidth":1},"encoding":{"x":{"datum":1000,"axis":null},"y":{"datum":0,"axis":null},"y2":{"datum":188}}}
]}
]
}
